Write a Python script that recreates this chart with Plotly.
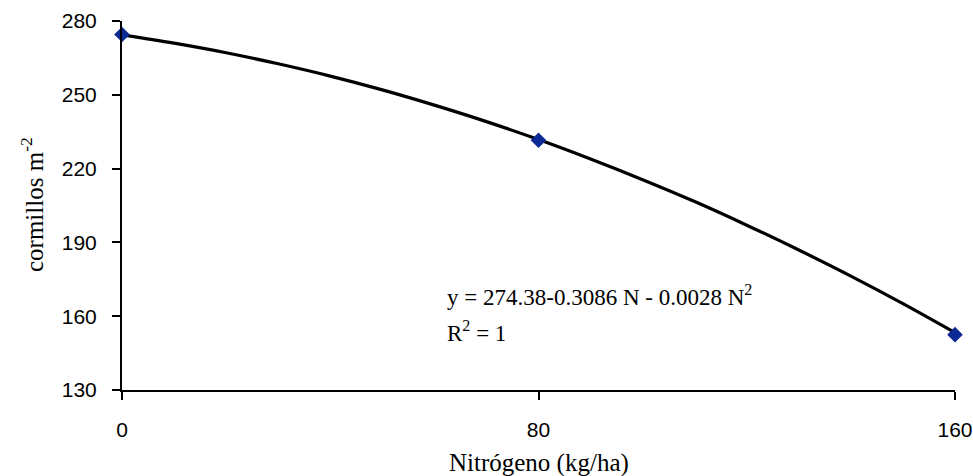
import plotly.graph_objects as go

# Observed points
obs_n = [0, 80, 160]
obs_y = [274.5, 231.5, 152.5]

# Trend curve
curve_n = [0, 10, 20, 30, 40, 50, 60, 70, 80, 90, 100, 110, 120, 130, 140, 150, 160]
curve_y = [274.4, 271.0, 267.1, 262.6, 257.6, 252.0, 245.8, 239.1, 231.8, 223.9, 215.5,
           206.6, 197.0, 186.9, 176.3, 165.1, 153.3]

x_ticks = [0, 80, 160]
y_ticks = [130, 160, 190, 220, 250, 280]

x_title = "Nitrógeno (kg/ha)"
y_title = "cormillos m<sup>-2</sup>"
eq_line1 = "y = 274.38-0.3086 N - 0.0028 N<sup>2</sup>"
eq_line2 = "R<sup>2</sup> = 1"

tick_font = dict(family="Liberation Sans, Arial, sans-serif", size=21, color="black")
serif = "Liberation Serif, Times New Roman, serif"

L, R, T, B = 122, 18, 21, 86
W, H = 973, 476
PW, PH = W - L - R, H - T - B


def px(xp):
    return (xp - L) / PW


def py(yp):
    return (H - B - yp) / PH


fig = go.Figure()
fig.add_trace(go.Scatter(x=curve_n, y=curve_y, mode="lines",
                         line=dict(color="black", width=3.2, shape="spline"),
                         showlegend=False, hoverinfo="skip"))
fig.add_trace(go.Scatter(x=obs_n, y=obs_y, mode="markers",
                         marker=dict(symbol="diamond", size=12, color="#0b2a96"),
                         showlegend=False, cliponaxis=False))

fig.update_layout(
    width=W, height=H,
    margin=dict(l=L, r=R, t=T, b=B),
    paper_bgcolor="white", plot_bgcolor="white",
    xaxis=dict(range=[0, 160], tickvals=x_ticks, ticktext=[str(v) for v in x_ticks],
               showgrid=False, zeroline=False, showline=True, linecolor="black", linewidth=2,
               ticks="outside", ticklen=8, tickwidth=2, tickcolor="black",
               tickfont=tick_font, ticklabelstandoff=12, automargin=False,
               ticklabeloverflow="allow"),
    yaxis=dict(range=[130, 280], tickvals=y_ticks, ticktext=[str(v) for v in y_ticks],
               showgrid=False, zeroline=False, showline=True, linecolor="black", linewidth=2,
               ticks="outside", ticklen=8, tickwidth=2, tickcolor="black",
               tickfont=tick_font, ticklabelstandoff=11, automargin=False,
               ticklabeloverflow="allow"),
    annotations=[
        dict(x=0.5, y=py(463), xref="paper", yref="paper", text=x_title, showarrow=False,
             xanchor="center", yanchor="middle", font=dict(family=serif, size=25, color="black")),
        dict(x=px(32), y=py(205), xref="paper", yref="paper", text=y_title, showarrow=False,
             textangle=-90, xanchor="center", yanchor="middle",
             font=dict(family=serif, size=25, color="black")),
        dict(x=px(445), y=py(295), xref="paper", yref="paper",
             text=eq_line1, showarrow=False, xanchor="left", yanchor="middle",
             font=dict(family=serif, size=23, color="black")),
        dict(x=px(445), y=py(331), xref="paper", yref="paper",
             text=eq_line2, showarrow=False, xanchor="left", yanchor="middle",
             font=dict(family=serif, size=23, color="black")),
    ],
)

fig.write_html("out.html")
